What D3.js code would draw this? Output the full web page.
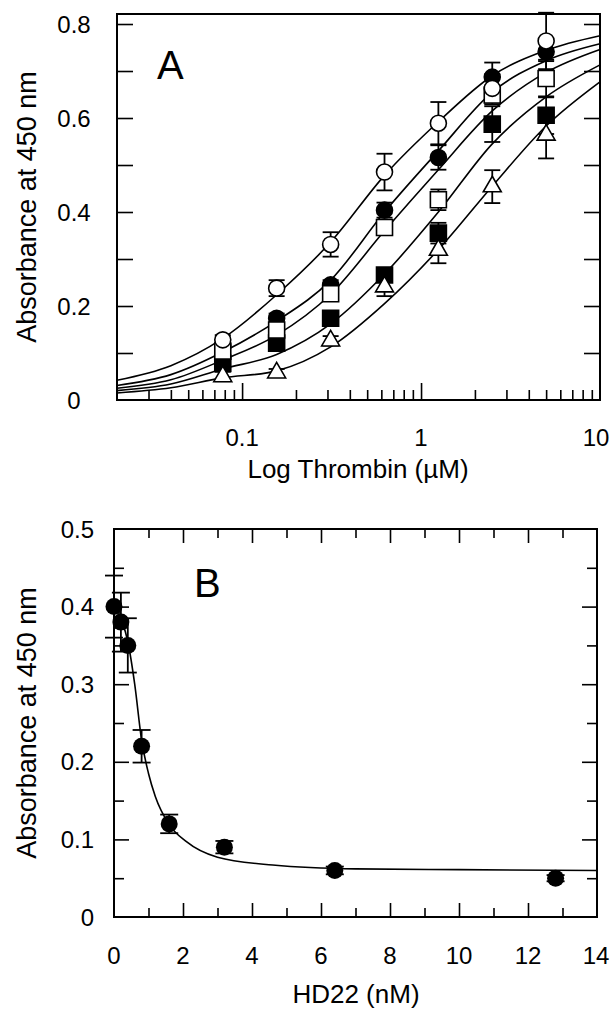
<!DOCTYPE html>
<html>
<head>
<meta charset="utf-8">
<script src="https://cdn.jsdelivr.net/npm/d3@7"></script>
<style>
body { margin: 0; background: #fff; }
svg { display: block; font-family: "Liberation Sans", Arial, sans-serif; }
</style>
</head>
<body>
<svg id="chart" width="611" height="1009"></svg>
<script>
// Panel A data: thrombin dilution series (uM) and absorbance for 5 conditions
const thrombinX = [0.078, 0.156, 0.3125, 0.625, 1.25, 2.5, 5];
const openCircleY = [0.128, 0.238, 0.331, 0.485, 0.589, 0.663, 0.764];
const openCircleErr = [0.01, 0.017, 0.026, 0.039, 0.045, 0.03, 0.06];
const filledCircleY = [0.115, 0.174, 0.245, 0.404, 0.516, 0.687, 0.741];
const filledCircleErr = [0.01, 0.01, 0.01, 0.016, 0.026, 0.031, 0.02];
const openSquareY = [0.104, 0.149, 0.226, 0.367, 0.426, 0.649, 0.684];
const openSquareErr = [0.01, 0.01, 0.01, 0.01, 0.022, 0.02, 0.04];
const filledSquareY = [0.078, 0.121, 0.174, 0.266, 0.355, 0.587, 0.606];
const filledSquareErr = [0.01, 0.01, 0.01, 0.01, 0.022, 0.038, 0.04];
const triangleY = [0.05, 0.058, 0.126, 0.241, 0.319, 0.454, 0.564];
const triangleErr = [0.01, 0.008, 0.01, 0.02, 0.028, 0.035, 0.05];

// Fitted curves at these x positions
const fitX = [0.02, 0.04, 0.078, 0.156, 0.3125, 0.625, 1.25, 2.5, 5, 10];
const fitOpenCircle = [0.042, 0.073, 0.131, 0.224, 0.336, 0.478, 0.592, 0.690, 0.744, 0.775];
const fitFilledCircle = [0.031, 0.054, 0.102, 0.168, 0.255, 0.400, 0.530, 0.655, 0.722, 0.758];
const fitOpenSquare = [0.025, 0.043, 0.085, 0.138, 0.225, 0.360, 0.490, 0.615, 0.697, 0.746];
const fitFilledSquare = [0.020, 0.034, 0.066, 0.097, 0.162, 0.268, 0.400, 0.545, 0.645, 0.713];
const fitTriangle = [0.015, 0.026, 0.047, 0.062, 0.113, 0.205, 0.320, 0.455, 0.583, 0.677];

const yTicksA = [0, 0.2, 0.4, 0.6, 0.8];
const xTicksA = [0.1, 1, 10];

// Panel B data: HD22 (nM)
const hdX = [0, 0.2, 0.4, 0.8, 1.6, 3.2, 6.4, 12.8];
const hdY = [0.40, 0.38, 0.35, 0.22, 0.12, 0.09, 0.06, 0.05];
const hdErr = [0.04, 0.038, 0.035, 0.021, 0.012, 0.008, 0.005, 0.004];
const hdFitX = [0, 0.2, 0.4, 0.6, 0.8, 1.0, 1.2, 1.6, 2.1, 3.0, 4.6, 7.0, 10, 14];
const hdFitY = [0.405, 0.385, 0.355, 0.300, 0.228, 0.185, 0.155, 0.119, 0.097, 0.077, 0.067, 0.062, 0.061, 0.060];
const yTicksB = [0, 0.1, 0.2, 0.3, 0.4, 0.5];
const xTicksB = [0, 2, 4, 6, 8, 10, 12, 14];

const W = 611;
const svg = d3.select("#chart");

// ---------- Panel A ----------
const a = {left: 117, right: 600, top: 14, bottom: 400};
const xA = d3.scaleLog().domain([0.02, 10]).range([a.left, a.right]);
const yA = d3.scaleLinear().domain([0, 0.8213]).range([a.bottom, a.top]);

const gA = svg.append("g");

// ticks every 0.1 on both sides, pointing inward
const yMinorA = d3.range(1, 9).map(d => d / 10);
gA.append("g")
    .attr("transform", `translate(${a.left},0)`)
    .call(d3.axisLeft(yA).tickValues(yMinorA).tickSize(-16).tickFormat(""));
gA.append("g")
    .attr("transform", `translate(${a.right},0)`)
    .call(d3.axisRight(yA).tickValues(yMinorA).tickSize(-16).tickFormat(""));

// log ticks on the bottom
const logMinor = [];
[0.01, 0.1, 1].forEach(dec => {
    for (let k = 2; k <= 9; k++) {
        const v = dec * k;
        if (v > 0.02 && v < 10) logMinor.push(v);
    }
});
gA.append("g")
    .attr("transform", `translate(0,${a.bottom})`)
    .call(d3.axisBottom(xA).tickValues(logMinor).tickSize(-10).tickFormat(""));
gA.append("g")
    .attr("transform", `translate(0,${a.bottom})`)
    .call(d3.axisBottom(xA).tickValues([0.1, 1]).tickSize(-17).tickFormat(""));

gA.selectAll(".domain").remove();
gA.selectAll(".tick line").attr("stroke", "#000").attr("stroke-width", 1.6);

gA.append("rect")
    .attr("x", a.left).attr("y", a.top)
    .attr("width", a.right - a.left).attr("height", a.bottom - a.top)
    .attr("fill", "none").attr("stroke", "#000").attr("stroke-width", 2);

// tick labels
gA.selectAll(".ylab")
    .data(yTicksA)
    .enter().append("text")
    .attr("x", 74)
    .attr("y", d => yA(d))
    .attr("dy", "0.36em")
    .attr("text-anchor", "middle")
    .style("font-size", "24px")
    .text(d => d3.format("")(d));
// last label would spill past the page edge, so keep it inside
gA.selectAll(".xlab")
    .data(xTicksA)
    .enter().append("text")
    .attr("x", d => Math.min(xA(d), W - 15))
    .attr("y", 446)
    .attr("text-anchor", "middle")
    .style("font-size", "24px")
    .text(d => d);

gA.append("text")
    .attr("transform", `translate(36,${(a.top + a.bottom) / 2}) rotate(-90)`)
    .attr("text-anchor", "middle")
    .style("font-size", "27px")
    .text("Absorbance at 450 nm");
gA.append("text")
    .attr("x", 358).attr("y", 478)
    .attr("text-anchor", "middle")
    .style("font-size", "26px")
    .text("Log Thrombin (\u00B5M)");
gA.append("text")
    .attr("x", 157).attr("y", 79)
    .style("font-size", "40px")
    .text("A");

// series table built from the arrays
const seriesA = [
    {y: filledCircleY, err: filledCircleErr, fit: fitFilledCircle, shape: d3.symbolCircle, size: 201, fill: "#000"},
    {y: filledSquareY, err: filledSquareErr, fit: fitFilledSquare, shape: d3.symbolSquare, size: 256, fill: "#000"},
    {y: triangleY, err: triangleErr, fit: fitTriangle, shape: d3.symbolTriangle, size: 140, fill: "#fff"},
    {y: openSquareY, err: openSquareErr, fit: fitOpenSquare, shape: d3.symbolSquare, size: 256, fill: "#fff"},
    {y: openCircleY, err: openCircleErr, fit: fitOpenCircle, shape: d3.symbolCircle, size: 201, fill: "#fff"}
];

const lineA = d3.line()
    .x(d => xA(d[0]))
    .y(d => yA(d[1]))
    .curve(d3.curveMonotoneX);

seriesA.forEach(s => {
    gA.append("path")
        .datum(fitX.map((x, i) => [x, s.fit[i]]))
        .attr("fill", "none")
        .attr("stroke", "#000")
        .attr("stroke-width", 1.6)
        .attr("d", lineA);
});

function drawErrors(g, xs, ys, errs, xScale, yScale, cap) {
    const pts = xs.map((x, i) => ({x: x, y: ys[i], e: errs[i]}));
    const eg = g.append("g").attr("stroke", "#000").attr("stroke-width", 1.8);
    eg.selectAll(".v").data(pts).enter().append("line")
        .attr("x1", d => xScale(d.x)).attr("x2", d => xScale(d.x))
        .attr("y1", d => yScale(d.y - d.e)).attr("y2", d => yScale(d.y + d.e));
    [-1, 1].forEach(sign => {
        eg.selectAll(".c" + sign).data(pts).enter().append("line")
            .attr("x1", d => xScale(d.x) - cap).attr("x2", d => xScale(d.x) + cap)
            .attr("y1", d => yScale(d.y + sign * d.e)).attr("y2", d => yScale(d.y + sign * d.e));
    });
}

seriesA.forEach(s => drawErrors(gA, thrombinX, s.y, s.err, xA, yA, 8));

seriesA.forEach(s => {
    gA.append("g").selectAll("path")
        .data(thrombinX.map((x, i) => [x, s.y[i]]))
        .enter().append("path")
        .attr("transform", d => `translate(${xA(d[0])},${yA(d[1])})`)
        .attr("d", d3.symbol().type(s.shape).size(s.size))
        .attr("fill", s.fill)
        .attr("stroke", "#000")
        .attr("stroke-width", 1.6);
});

// ---------- Panel B ----------
const b = {left: 114, right: 597, top: 529, bottom: 917};
const xB = d3.scaleLinear().domain([0, 14]).range([b.left, b.right]);
const yB = d3.scaleLinear().domain([0, 0.5]).range([b.bottom, b.top]);

const gB = svg.append("g");
const yMajorB = [0.1, 0.2, 0.3, 0.4];
const yMinorB = [0.05, 0.15, 0.25, 0.35, 0.45];
const xMajorB = [2, 4, 6, 8, 10, 12];
const xMinorB = [1, 3, 5, 7, 9, 11, 13];

gB.append("g").attr("transform", `translate(${b.left},0)`)
    .call(d3.axisLeft(yB).tickValues(yMajorB).tickSize(-15).tickFormat(""));
gB.append("g").attr("transform", `translate(${b.left},0)`)
    .call(d3.axisLeft(yB).tickValues(yMinorB).tickSize(-10).tickFormat(""));
gB.append("g").attr("transform", `translate(${b.right},0)`)
    .call(d3.axisRight(yB).tickValues(yMajorB).tickSize(-15).tickFormat(""));
gB.append("g").attr("transform", `translate(${b.right},0)`)
    .call(d3.axisRight(yB).tickValues(yMinorB).tickSize(-10).tickFormat(""));
gB.append("g").attr("transform", `translate(0,${b.bottom})`)
    .call(d3.axisBottom(xB).tickValues(xMajorB).tickSize(-14).tickFormat(""));
gB.append("g").attr("transform", `translate(0,${b.bottom})`)
    .call(d3.axisBottom(xB).tickValues(xMinorB).tickSize(-9).tickFormat(""));
gB.append("g").attr("transform", `translate(0,${b.top})`)
    .call(d3.axisTop(xB).tickValues(xMajorB).tickSize(-14).tickFormat(""));
gB.append("g").attr("transform", `translate(0,${b.top})`)
    .call(d3.axisTop(xB).tickValues(xMinorB).tickSize(-9).tickFormat(""));

gB.selectAll(".domain").remove();
gB.selectAll(".tick line").attr("stroke", "#000").attr("stroke-width", 1.6);

gB.append("rect")
    .attr("x", b.left).attr("y", b.top)
    .attr("width", b.right - b.left).attr("height", b.bottom - b.top)
    .attr("fill", "none").attr("stroke", "#000").attr("stroke-width", 2);

gB.selectAll(".ylab")
    .data(yTicksB)
    .enter().append("text")
    .attr("x", 94)
    .attr("y", d => yB(d))
    .attr("dy", "0.36em")
    .attr("text-anchor", "end")
    .style("font-size", "24px")
    .text(d => d3.format("")(d));
gB.selectAll(".xlab")
    .data(xTicksB)
    .enter().append("text")
    .attr("x", d => Math.min(xB(d), W - 15))
    .attr("y", 964)
    .attr("text-anchor", "middle")
    .style("font-size", "24px")
    .text(d => d);

gB.append("text")
    .attr("transform", `translate(36,${(b.top + b.bottom) / 2}) rotate(-90)`)
    .attr("text-anchor", "middle")
    .style("font-size", "27px")
    .text("Absorbance at 450 nm");
gB.append("text")
    .attr("x", 356).attr("y", 1003)
    .attr("text-anchor", "middle")
    .style("font-size", "26px")
    .text("HD22 (nM)");
gB.append("text")
    .attr("x", 194).attr("y", 597)
    .style("font-size", "40px")
    .text("B");

gB.append("path")
    .datum(hdFitX.map((x, i) => [x, hdFitY[i]]))
    .attr("fill", "none")
    .attr("stroke", "#000")
    .attr("stroke-width", 1.6)
    .attr("d", d3.line().x(d => xB(d[0])).y(d => yB(d[1])).curve(d3.curveMonotoneX));

drawErrors(gB, hdX, hdY, hdErr, xB, yB, 9);

gB.append("g").selectAll("circle")
    .data(hdX.map((x, i) => [x, hdY[i]]))
    .enter().append("circle")
    .attr("cx", d => xB(d[0]))
    .attr("cy", d => yB(d[1]))
    .attr("r", 8.5)
    .attr("fill", "#000");
</script>
</body>
</html>
